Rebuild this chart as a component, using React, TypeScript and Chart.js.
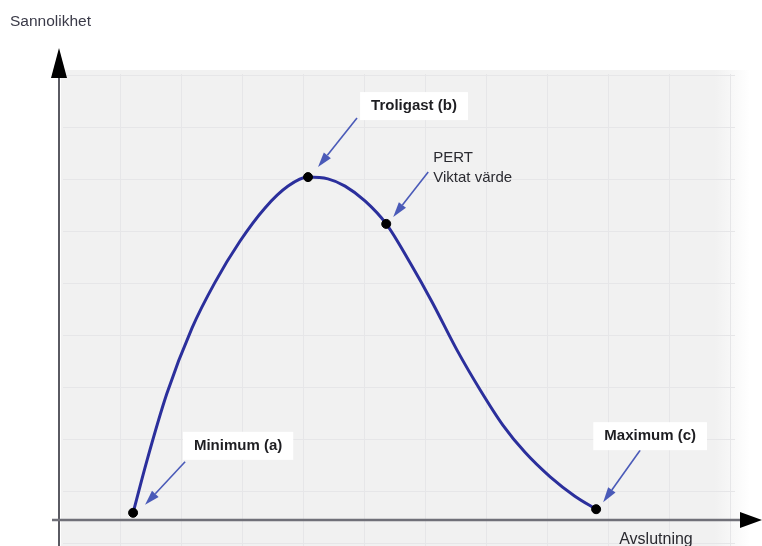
import React, { useEffect, useRef } from "react";
import { Chart, registerables } from "chart.js";

Chart.register(...registerables);

// PERT distribution curve (x: completion time, y: probability), in chart units 0..100
const curveX = [10.8, 12.8, 15.7, 19.4, 22.7, 26.4, 30.0, 33.4, 36.3, 39.2, 41.7, 44.6, 47.7, 51.2, 54.4, 58.0, 61.4, 64.7, 67.9, 71.6, 75.2, 78.3];
const curveY = [1.6, 13.1, 28.0, 42.7, 52.7, 62.0, 69.3, 74.2, 76.2, 75.8, 74.2, 70.9, 65.8, 57.1, 48.4, 37.8, 28.9, 21.1, 15.1, 9.6, 5.3, 2.4];

// Key points: minimum (a), most likely (b), PERT weighted value, maximum (c)
const keyNames = ["min", "mode", "pert", "max"];
const keyX = [10.8, 36.3, 47.7, 78.3];
const keyY = [1.6, 76.2, 65.8, 2.4];
const keyLabels = [["Minimum (a)"], ["Troligast (b)"], ["PERT", "Viktat värde"], ["Maximum (c)"]];

const yAxisTitle = "Sannolikhet";
const xAxisTitle = "Avslutning";

const FONT = "'Liberation Sans', Arial, sans-serif";

function arrow(ctx: CanvasRenderingContext2D, x1: number, y1: number, x2: number, y2: number, color: string) {
  const ang = Math.atan2(y2 - y1, x2 - x1);
  const headLen = 15;
  const headW = 4.5;
  const bx = x2 - Math.cos(ang) * headLen;
  const by = y2 - Math.sin(ang) * headLen;
  ctx.save();
  ctx.strokeStyle = color;
  ctx.fillStyle = color;
  ctx.lineWidth = 1.6;
  ctx.beginPath();
  ctx.moveTo(x1, y1);
  ctx.lineTo(bx, by);
  ctx.stroke();
  ctx.beginPath();
  ctx.moveTo(x2, y2);
  ctx.lineTo(bx + Math.sin(ang) * headW, by - Math.cos(ang) * headW);
  ctx.lineTo(bx - Math.sin(ang) * headW, by + Math.cos(ang) * headW);
  ctx.closePath();
  ctx.fill();
  ctx.restore();
}

export default function App() {
  const ref = useRef<HTMLCanvasElement | null>(null);

  useEffect(() => {
    if (!ref.current) return;

    const backgroundPlugin = {
      id: "paperBackground",
      beforeDraw(chart: any) {
        const ctx = chart.ctx as CanvasRenderingContext2D;
        const { left, top, right } = chart.chartArea;
        const H = chart.height;
        ctx.save();
        ctx.fillStyle = "#ffffff";
        ctx.fillRect(0, 0, chart.width, H);
        const g = ctx.createLinearGradient(right - 30, 0, right + 5, 0);
        g.addColorStop(0, "#f1f1f1");
        g.addColorStop(1, "rgba(241,241,241,0)");
        ctx.fillStyle = g;
        ctx.fillRect(left + 2, top, right - left + 3, H - top);
        ctx.strokeStyle = "#e6e6e8";
        ctx.lineWidth = 1;
        for (let x = left + 61; x < right - 10; x += 61) {
          ctx.beginPath();
          ctx.moveTo(x + 0.5, top + 4);
          ctx.lineTo(x + 0.5, H);
          ctx.stroke();
        }
        for (let y = top + 5; y < H; y += 52) {
          ctx.beginPath();
          ctx.moveTo(left + 4, y + 0.5);
          ctx.lineTo(right - 10, y + 0.5);
          ctx.stroke();
        }
        ctx.restore();
      },
      beforeDatasetsDraw(chart: any) {
        const ctx = chart.ctx as CanvasRenderingContext2D;
        const xs = chart.scales.x;
        const ys = chart.scales.y;
        const ox = xs.getPixelForValue(0);
        const oy = ys.getPixelForValue(0);
        const H = chart.height;
        const W = chart.width;
        ctx.save();
        // y axis
        ctx.strokeStyle = "#5a5a62";
        ctx.lineWidth = 2;
        ctx.beginPath();
        ctx.moveTo(ox, H);
        ctx.lineTo(ox, 74);
        ctx.stroke();
        ctx.fillStyle = "#000";
        ctx.beginPath();
        ctx.moveTo(ox, 48);
        ctx.lineTo(ox - 8, 78);
        ctx.lineTo(ox + 8, 78);
        ctx.closePath();
        ctx.fill();
        // x axis
        ctx.strokeStyle = "#707078";
        ctx.lineWidth = 2.5;
        ctx.beginPath();
        ctx.moveTo(ox - 7, oy);
        ctx.lineTo(W - 22, oy);
        ctx.stroke();
        ctx.beginPath();
        ctx.moveTo(W, oy);
        ctx.lineTo(W - 22, oy - 8);
        ctx.lineTo(W - 22, oy + 8);
        ctx.closePath();
        ctx.fill();
        // axis titles
        ctx.fillStyle = "#3a3a48";
        ctx.font = `15.5px ${FONT}`;
        ctx.textAlign = "left";
        ctx.textBaseline = "middle";
        ctx.fillText(yAxisTitle, 10, 22);
        ctx.font = `16px ${FONT}`;
        ctx.fillStyle = "#2a2a30";
        ctx.textAlign = "center";
        ctx.textBaseline = "top";
        ctx.fillText(xAxisTitle, 656, oy + 12);
        ctx.restore();
      },
      afterDatasetsDraw(chart: any) {
        const ctx = chart.ctx as CanvasRenderingContext2D;
        const xs = chart.scales.x;
        const ys = chart.scales.y;
        // pixel offsets of arrow tail / tip / label relative to each key point
        const tip = [[12, -8], [10, -10], [7, -7], [7, -7]];
        const tail = [[52, -51], [49, -59], [42, -52], [44, -59]];
        const lab = [[105, -67], [106, -71], [47, -66], [54, -73]];
        const arrowColor = "#4a5ab8";
        keyNames.forEach((_, i) => {
          const px = xs.getPixelForValue(keyX[i]);
          const py = ys.getPixelForValue(keyY[i]);
          arrow(ctx, px + tail[i][0], py + tail[i][1], px + tip[i][0], py + tip[i][1], arrowColor);
          const lines = keyLabels[i];
          ctx.save();
          ctx.textBaseline = "middle";
          if (lines.length === 1) {
            ctx.font = `bold 15px ${FONT}`;
            const w = ctx.measureText(lines[0]).width;
            const cx = px + lab[i][0];
            const cy = py + lab[i][1];
            ctx.fillStyle = "#ffffff";
            ctx.fillRect(cx - w / 2 - 11, cy - 14, w + 22, 28);
            ctx.fillStyle = "#1e1e22";
            ctx.textAlign = "center";
            ctx.fillText(lines[0], cx, cy);
          } else {
            ctx.font = `15px ${FONT}`;
            ctx.textAlign = "left";
            const lx = px + lab[i][0];
            const ly = py + lab[i][1];
            lines.forEach((t, k) => {
              ctx.fillStyle = "#2a2a30";
              ctx.fillText(t, lx, ly + k * 20);
            });
          }
          ctx.restore();
        });
      },
    };

    const chart = new Chart(ref.current, {
      type: "scatter",
      data: {
        datasets: [
          {
            label: "key",
            data: keyX.map((x, i) => ({ x, y: keyY[i] })),
            backgroundColor: "#000000",
            borderColor: "#000000",
            pointRadius: 4.5,
            showLine: false,
            order: 0,
          },
          {
            label: "PERT",
            data: curveX.map((x, i) => ({ x, y: curveY[i] })),
            showLine: true,
            borderColor: "#2b2f9c",
            borderWidth: 3,
            pointRadius: 0,
            cubicInterpolationMode: "monotone",
            fill: false,
            order: 1,
          },
        ],
      },
      options: {
        responsive: false,
        animation: false,
        devicePixelRatio: 1,
        layout: { padding: { left: 59, top: 70, right: 17, bottom: 26 } },
        plugins: { legend: { display: false }, tooltip: { enabled: false } },
        scales: {
          x: { type: "linear", min: 0, max: 100, display: false },
          y: { type: "linear", min: 0, max: 100, display: false },
        },
      },
      plugins: [backgroundPlugin],
    } as any);

    return () => chart.destroy();
  }, []);

  return (
    <div style={{ position: "fixed", left: 0, top: 0, width: 762, height: 546 }}>
      <canvas ref={ref} width={762} height={546} />
    </div>
  );
}
